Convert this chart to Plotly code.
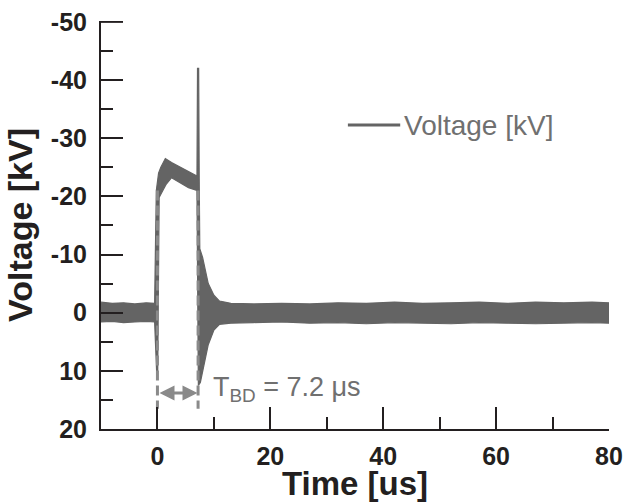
import plotly.graph_objects as go

# ---- data ----
# upper envelope (negative-voltage side) of the noisy voltage trace
t_upper = [-10, -8, -6, -4, -2, -0.5, -0.2, 0.2, 0.6, 1.4, 2.5, 4.0, 5.5, 6.5, 7.0,
           7.1, 7.3, 7.4, 7.5, 8.0, 9.0, 10.0, 11.0, 13.0, 17, 22, 27, 32, 37, 42,
           47, 52, 57, 62, 67, 72, 77, 80]
v_upper = [-1.8, -1.6, -1.7, -1.5, -1.7, -1.6, -21.0, -24.0, -25.0, -26.5, -25.8, -25.0,
           -24.3, -23.8, -23.5, -42.0, -42.0, -23.0, -11.0, -9.5, -5.0, -3.0, -2.0, -1.6,
           -1.5, -1.6, -1.5, -1.7, -1.6, -1.8, -1.6, -1.7, -1.8, -1.6, -1.8, -1.7, -1.8, -1.7]

# lower envelope (positive-voltage side), including the inner edge of the pulse
t_lower = [-10, -8, -6, -4, -2, -0.5, -0.15, 0.05, 0.3, 0.6, 1.5, 2.5, 4.0, 5.5, 7.0,
           7.25, 7.6, 8.0, 9.0, 10.0, 11.0, 13.0, 17, 22, 27, 32, 37, 42, 47, 52, 57,
           62, 67, 72, 77, 80]
v_lower = [1.6, 1.5, 1.7, 1.6, 1.5, 1.6, 10.0, 10.0, -19.8, -20.5, -22.0, -23.2, -22.4,
           -21.5, -21.0, 12.5, 12.0, 10.0, 5.5, 3.0, 2.0, 1.8, 1.7, 1.6, 1.8, 1.7, 1.9,
           1.7, 1.8, 1.9, 1.7, 1.8, 1.9, 1.8, 1.7, 1.8]

# breakdown-time marker
t_start = 0.0
t_bd = 7.2
marker_top = -21.0
marker_bottom = 16.5
arrow_level = 13.8

x_ticks = [0, 20, 40, 60, 80]
x_ticktext = ["0", "20", "40", "60", "80"]
y_ticks = [-50, -40, -30, -20, -10, 0, 10, 20]
y_ticktext = ["-50", "-40", "-30", "-20", "-10", "0", "10", "20"]

TRACE = "#646464"
MARK = "#8a8a8a"
TXT = "#707070"
AX = "#231f20"
FONT = "Liberation Sans, Arial, sans-serif"

# polygon of the band: upper forward, lower backward
poly_x = t_upper + t_lower[::-1]
poly_y = v_upper + v_lower[::-1]

fig = go.Figure()
fig.add_trace(go.Scatter(
    x=poly_x, y=poly_y, mode="lines", fill="toself",
    fillcolor=TRACE, line=dict(color=TRACE, width=1.2),
    showlegend=False, hoverinfo="skip"))

# dashed vertical markers
for tv in (t_start, t_bd):
    fig.add_trace(go.Scatter(
        x=[tv, tv], y=[marker_top, marker_bottom], mode="lines",
        line=dict(color=MARK, width=3, dash="10px,5px"),
        showlegend=False, hoverinfo="skip"))

# double-headed arrow
fig.add_annotation(
    x=t_bd - 0.1, y=arrow_level, ax=t_start + 0.1, ay=arrow_level,
    xref="x", yref="y", axref="x", ayref="y", text="",
    showarrow=True, arrowhead=2, arrowside="end+start",
    arrowsize=1.0, arrowwidth=3, arrowcolor=MARK)

fig.add_annotation(
    x=t_bd + 2.2, y=arrow_level - 0.6, xref="x", yref="y",
    text="T<sub>BD</sub> = 7.2 μs", showarrow=False, xanchor="left", yanchor="middle",
    font=dict(family=FONT, size=27, color=TXT))

# manual legend
fig.add_shape(type="line", xref="paper", yref="paper",
              x0=0.486, x1=0.589, y0=0.745, y1=0.745,
              line=dict(color=TRACE, width=3))
fig.add_annotation(x=0.592, y=0.745, xref="paper", yref="paper",
                   text="Voltage [kV]", showarrow=False,
                   xanchor="left", yanchor="middle",
                   font=dict(family=FONT, size=28, color=TXT))

# top major tick of the y axis (plotly omits the inside tick at the range end)
fig.add_shape(type="line", xref="paper", yref="y",
              x0=0, x1=22 / 508, y0=y_ticks[0], y1=y_ticks[0],
              line=dict(color=AX, width=2))

fig.update_layout(
    width=624, height=502,
    margin=dict(l=101, r=15, t=21, b=73),
    paper_bgcolor="white", plot_bgcolor="white",
    font=dict(family=FONT, color=AX),
    showlegend=False,
)

fig.update_xaxes(
    range=[-10, 80], showgrid=False, zeroline=False,
    showline=True, linecolor=AX, linewidth=2,
    tickmode="array", tickvals=x_ticks, ticktext=x_ticktext,
    ticks="inside", ticklen=22, tickwidth=2, tickcolor=AX,
    minor=dict(ticks="inside", ticklen=12, tickwidth=2, tickcolor=AX, tick0=0, dtick=10),
    tickfont=dict(family=FONT, size=25, color=AX, weight="bold"),
    ticklabelstandoff=4,
    title=dict(text="Time [us]", font=dict(family=FONT, size=33, color=AX, weight="bold"),
               standoff=11),
    automargin=False,
)
fig.update_yaxes(
    range=[20, -50.15], showgrid=False, zeroline=False,
    showline=True, linecolor=AX, linewidth=2,
    tickmode="array", tickvals=y_ticks, ticktext=y_ticktext,
    ticks="inside", ticklen=22, tickwidth=2, tickcolor=AX,
    minor=dict(ticks="inside", ticklen=12, tickwidth=2, tickcolor=AX, tick0=0, dtick=5),
    tickfont=dict(family=FONT, size=25, color=AX, weight="bold"),
    ticklabelstandoff=7,
    title=dict(text="Voltage [kV]", font=dict(family=FONT, size=34, color=AX, weight="bold"),
               standoff=8),
    automargin=False,
)

# remove the default page margin so the figure sits at the window's top-left corner
fig.write_html("out.html", config={"displayModeBar": False},
               post_script="document.body.style.margin='0';document.body.style.overflow='hidden';")
